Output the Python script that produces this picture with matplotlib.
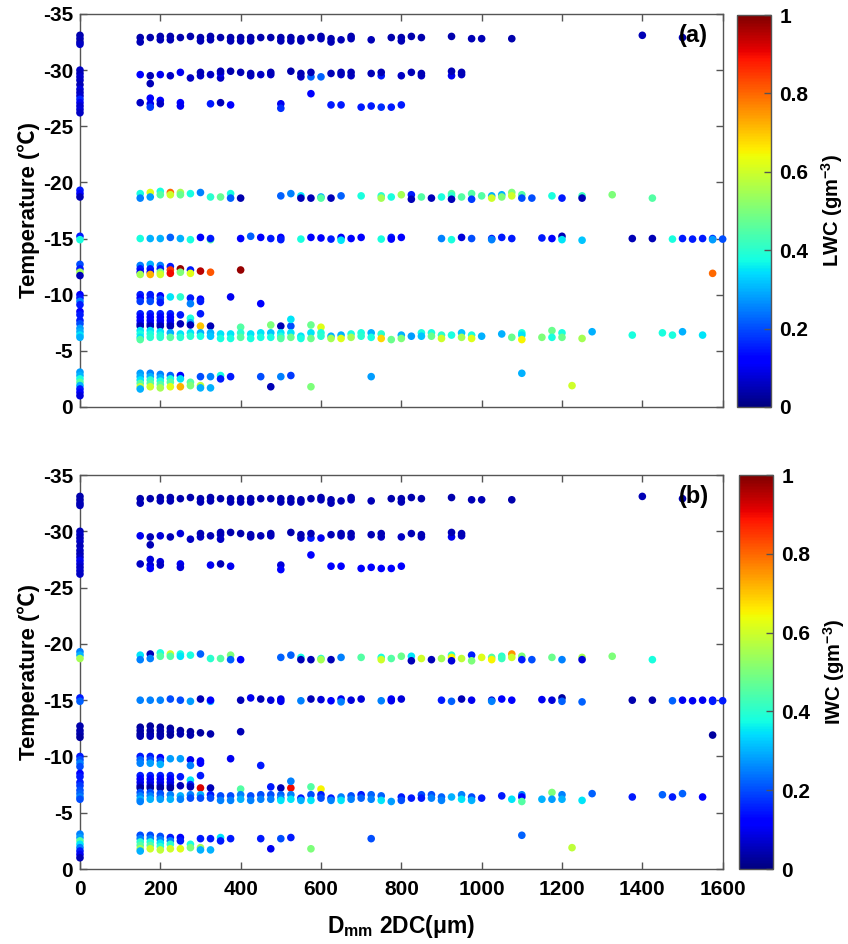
import matplotlib
matplotlib.use("Agg")
import matplotlib.pyplot as plt
import numpy as np

plt.rcParams['font.family'] = ['Liberation Sans', 'Noto Sans CJK SC', 'DejaVu Sans']
plt.rcParams['font.weight'] = 'bold'
plt.rcParams['axes.unicode_minus'] = False
plt.rcParams['mathtext.fontset'] = 'custom'
plt.rcParams['mathtext.rm'] = 'Liberation Sans:bold'
plt.rcParams['mathtext.bf'] = 'Liberation Sans:bold'
plt.rcParams['mathtext.default'] = 'bf'

# ---- data: (D_mm 2DC [um], temperature [C], LWC, IWC) per temperature band ----
col_zero = [(0, -33.1, .04, .04), (0, -32.8, .05, .04), (0, -32.5, .04, .05), (0, -32.3, .06, .05),
            (0, -30.0, .06, .05), (0, -29.7, .05, .06), (0, -29.4, .07, .05), (0, -29.1, .06, .06),
            (0, -28.7, .05, .05), (0, -28.3, .08, .06), (0, -28.0, .06, .05), (0, -27.7, .07, .06),
            (0, -27.4, .16, .1), (0, -27.1, .1, .08), (0, -26.8, .07, .06), (0, -26.5, .08, .07),
            (0, -26.2, .06, .06),
            (0, -19.3, .15, .25), (0, -19.0, .12, .3), (0, -18.7, .05, .55),
            (0, -15.2, .15, .15), (0, -14.9, .38, .22),
            (0, -12.7, .2, .04), (0, -12.3, .15, .04), (0, -12.0, .55, .04), (0, -11.7, .05, .03),
            (0, -10.0, .12, .15), (0, -9.7, .15, .2), (0, -9.4, .25, .25), (0, -9.1, .15, .2),
            (0, -8.5, .12, .12), (0, -8.2, .15, .15), (0, -7.7, .15, .15), (0, -7.4, .2, .18),
            (0, -7.0, .28, .2), (0, -6.7, .3, .22), (0, -6.4, .35, .25), (0, -6.2, .3, .2),
            (0, -3.1, .28, .25), (0, -2.8, .3, .28), (0, -2.5, .38, .45), (0, -2.2, .45, .35),
            (0, -1.9, .3, .25), (0, -1.6, .15, .15), (0, -1.3, .12, .1), (0, -1.0, .08, .05)]

band_33 = [(150, -32.9, .04, .04), (150, -32.5, .05, .05), (175, -32.9, .04, .04), (200, -33.0, .04, .04),
           (200, -32.7, .05, .05), (225, -33.0, .04, .04), (225, -32.7, .05, .05), (250, -32.9, .04, .04),
           (275, -33.0, .04, .04), (300, -32.9, .04, .04), (300, -32.6, .05, .05), (325, -33.0, .04, .04),
           (325, -32.7, .05, .05), (350, -32.9, .04, .04), (375, -32.9, .04, .04), (375, -32.6, .05, .05),
           (400, -32.9, .04, .04), (400, -32.6, .05, .05), (425, -32.9, .04, .04), (425, -32.6, .05, .05),
           (450, -32.9, .04, .04), (475, -32.9, .04, .04), (500, -32.9, .04, .04), (500, -32.6, .05, .05),
           (525, -32.9, .04, .04), (525, -32.6, .05, .05), (550, -32.8, .04, .04), (550, -32.6, .05, .05),
           (575, -32.9, .04, .04), (600, -33.0, .04, .04), (600, -32.8, .05, .05), (625, -32.8, .04, .04),
           (625, -32.5, .05, .05), (650, -32.7, .05, .05), (675, -33.0, .04, .04), (675, -32.8, .05, .05),
           (725, -32.7, .05, .05), (775, -32.9, .04, .04), (800, -32.9, .04, .04), (800, -32.6, .05, .05),
           (825, -33.0, .04, .04), (850, -32.9, .04, .04), (925, -33.0, .04, .04), (975, -32.8, .05, .05),
           (1000, -32.8, .05, .05), (1075, -32.8, .04, .04), (1400, -33.1, .05, .05), (1500, -32.9, .04, .04)]

band_30 = [(150, -29.6, .12, .1), (175, -29.5, .05, .05), (175, -28.8, .05, .05), (200, -29.6, .1, .08),
           (225, -29.5, .06, .05), (250, -29.8, .1, .08), (275, -29.3, .06, .06), (300, -29.5, .06, .06),
           (300, -29.8, .05, .05), (325, -29.6, .06, .05), (350, -29.3, .06, .06), (350, -29.7, .1, .06),
           (350, -29.9, .05, .05), (375, -29.9, .04, .04), (400, -29.8, .05, .04), (425, -29.5, .06, .05),
           (425, -29.7, .05, .05), (450, -29.6, .06, .05), (475, -29.6, .06, .06), (475, -29.8, .05, .05),
           (525, -29.9, .04, .04), (550, -29.4, .06, .06), (550, -29.7, .05, .05), (575, -29.4, .22, .15),
           (575, -29.8, .05, .05), (600, -29.4, .22, .1), (625, -29.7, .05, .05), (650, -29.6, .06, .06),
           (650, -29.8, .05, .05), (675, -29.5, .06, .06), (675, -29.8, .05, .05), (725, -29.7, .05, .05),
           (750, -29.5, .15, .06), (750, -29.8, .05, .05), (800, -29.5, .06, .06), (825, -29.8, .05, .05),
           (850, -29.5, .06, .06), (850, -29.7, .05, .05), (925, -29.5, .1, .1), (925, -29.9, .05, .05),
           (950, -29.6, .06, .06), (950, -29.8, .05, .05)]

band_27 = [(150, -27.1, .06, .06), (175, -27.5, .12, .08), (175, -27.0, .1, .08), (175, -26.7, .18, .12),
           (200, -27.3, .12, .08), (200, -27.0, .06, .06), (250, -27.1, .12, .1), (250, -26.8, .1, .08),
           (325, -27.0, .15, .1), (350, -27.1, .05, .05), (375, -26.9, .12, .1), (500, -27.0, .1, .08),
           (500, -26.6, .17, .12), (575, -27.9, .12, .12), (625, -26.9, .15, .12), (650, -26.9, .15, .12),
           (700, -26.7, .15, .12), (725, -26.8, .15, .12), (750, -26.7, .17, .12), (775, -26.7, .15, .12),
           (800, -26.9, .15, .12)]

band_19 = [(150, -19.0, .38, .35), (150, -18.6, .25, .25), (175, -19.1, .62, .05), (175, -18.7, .28, .25),
           (200, -19.2, .38, .38), (200, -18.9, .45, .45), (225, -19.1, .8, .6), (225, -18.9, .6, .45),
           (250, -19.1, .55, .38), (250, -18.9, .48, .35), (275, -19.0, .38, .38), (300, -19.1, .25, .22),
           (325, -18.7, .4, .4), (350, -18.7, .47, .45), (375, -19.0, .38, .5), (375, -18.6, .22, .22),
           (400, -18.6, .04, .12), (500, -18.8, .22, .22), (525, -19.0, .25, .22), (550, -18.8, .35, .38),
           (550, -18.6, .05, .05), (575, -18.6, .05, .05), (600, -18.7, .3, .4), (600, -18.6, .45, .55),
           (625, -18.6, .05, .05), (650, -18.8, .22, .25), (700, -18.8, .38, .45), (750, -18.8, .4, .38),
           (750, -18.6, .55, .6), (775, -18.7, .38, .45), (800, -18.9, .55, .48), (825, -18.9, .15, .35),
           (825, -18.5, .05, .05), (850, -18.7, .45, .6), (875, -18.6, .05, .05), (900, -18.7, .38, .55),
           (925, -19.0, .45, .4), (925, -18.8, .4, .65), (925, -18.5, .05, .08), (950, -18.7, .45, .58),
           (975, -19.0, .45, .15), (975, -18.5, .18, .5), (1000, -18.8, .45, .62), (1025, -18.8, .3, .45),
           (1025, -18.6, .6, .65), (1050, -18.9, .3, .4), (1050, -18.7, .5, .42), (1075, -19.1, .5, .75),
           (1075, -18.8, .6, .6), (1100, -18.9, .45, .5), (1100, -18.6, .2, .15), (1125, -18.6, .2, .2),
           (1175, -18.8, .38, .48), (1200, -18.6, .15, .25), (1250, -18.8, .42, .55), (1250, -18.6, .05, .08),
           (1325, -18.9, .5, .5), (1425, -18.6, .45, .38)]

band_15 = [(150, -15.0, .38, .25), (175, -15.0, .3, .25), (200, -15.0, .3, .25), (225, -15.1, .22, .2),
           (250, -15.0, .3, .2), (275, -14.9, .38, .28), (300, -15.1, .12, .05), (325, -14.9, .45, .3),
           (325, -15.0, .15, .12), (400, -15.0, .12, .05), (425, -15.2, .22, .1), (450, -15.1, .12, .05),
           (475, -15.0, .15, .08), (500, -15.1, .12, .08), (500, -14.9, .15, .1), (550, -14.95, .38, .25),
           (575, -15.1, .12, .05), (600, -15.05, .12, .08), (625, -14.95, .15, .12), (650, -15.1, .12, .1),
           (650, -14.85, .35, .25), (675, -15.0, .12, .08), (700, -15.1, .12, .08), (750, -14.95, .38, .25),
           (775, -15.1, .15, .12), (775, -14.95, .12, .1), (800, -15.1, .12, .08), (900, -15.0, .25, .15),
           (925, -14.9, .38, .22), (950, -15.1, .08, .05), (975, -15.0, .2, .1), (1025, -15.0, .15, .08),
           (1025, -14.9, .25, .25), (1050, -15.1, .15, .12), (1075, -15.0, .15, .12), (1150, -15.05, .15, .1),
           (1175, -15.0, .12, .08), (1200, -15.2, .05, .03), (1200, -14.9, .35, .22), (1250, -14.85, .32, .22),
           (1375, -15.0, .05, .04), (1425, -15.0, .05, .04), (1475, -14.95, .38, .22), (1500, -15.0, .15, .1),
           (1525, -14.95, .15, .1), (1550, -15.0, .15, .1), (1575, -15.0, .18, .12), (1575, -14.9, .28, .15),
           (1600, -14.95, .2, .15)]

band_12 = [(150, -12.6, .25, .03), (150, -12.3, .15, .04), (150, -12.0, .12, .03), (150, -11.8, .55, .04),
           (175, -12.7, .3, .03), (175, -12.3, .15, .04), (175, -12.0, .12, .03), (175, -11.8, .72, .05),
           (200, -12.6, .25, .03), (200, -12.3, .15, .04), (200, -12.0, .5, .03), (200, -11.8, .6, .04),
           (225, -12.5, .15, .03), (225, -12.2, .85, .04), (225, -11.9, .9, .03), (250, -12.3, .98, .03),
           (250, -12.0, .5, .04), (275, -12.2, .15, .03), (275, -11.9, .62, .04), (300, -12.1, .95, .03),
           (325, -12.0, .82, .04), (400, -12.2, .98, .05), (1575, -11.9, .8, .03)]

band_10 = [(150, -10.0, .15, .15), (150, -9.7, .12, .22), (150, -9.4, .18, .25), (175, -10.0, .15, .15),
           (175, -9.7, .15, .2), (175, -9.4, .2, .28), (200, -9.9, .12, .12), (200, -9.6, .2, .2),
           (200, -9.3, .15, .3), (225, -9.8, .35, .28), (250, -9.8, .4, .28), (275, -9.7, .15, .1),
           (275, -9.2, .25, .25), (300, -9.6, .12, .12), (300, -9.4, .15, .12), (375, -9.8, .1, .1),
           (450, -9.2, .12, .15)]

band_8 = [(150, -8.3, .15, .15), (150, -8.0, .12, .12), (150, -7.7, .12, .1), (150, -7.4, .1, .08), (150, -7.2, .05, .03),
          (175, -8.3, .15, .15), (175, -8.0, .12, .12), (175, -7.7, .12, .1), (175, -7.4, .1, .08), (175, -7.2, .05, .03),
          (200, -8.3, .15, .15), (200, -8.0, .12, .12), (200, -7.7, .12, .1), (200, -7.4, .1, .08), (200, -7.2, .05, .03),
          (225, -8.3, .15, .15), (225, -8.0, .12, .12), (225, -7.7, .12, .1), (225, -7.4, .1, .08), (225, -7.2, .05, .03),
          (250, -8.2, .15, .15), (250, -7.4, .05, .05), (275, -7.9, .38, .35), (275, -7.5, .3, .15),
          (275, -7.3, .05, .05), (300, -8.3, .15, .15), (300, -7.2, .7, .92), (325, -7.2, .05, .05),
          (400, -7.1, .45, .45), (475, -7.3, .5, .15), (500, -7.2, .05, .05), (525, -7.2, .2, .9),
          (525, -7.8, .35, .25), (575, -7.3, .48, .45), (600, -7.1, .62, .65)]

band_6 = [(150, -6.8, .35, .2), (150, -6.5, .38, .25), (150, -6.2, .35, .3), (150, -6.0, .45, .25),
          (175, -6.8, .35, .2), (175, -6.5, .38, .25), (175, -6.2, .4, .3), (200, -6.7, .35, .2),
          (200, -6.4, .38, .22), (200, -6.2, .4, .28), (225, -6.6, .3, .25), (225, -6.2, .45, .3),
          (250, -6.5, .35, .3), (250, -6.2, .4, .25), (275, -6.6, .35, .25), (275, -6.3, .4, .2),
          (300, -6.6, .3, .3), (300, -6.3, .38, .2), (325, -6.6, .3, .15), (325, -6.3, .32, .2),
          (350, -6.5, .35, .2), (350, -6.1, .38, .25), (375, -6.5, .35, .2), (375, -6.1, .38, .25),
          (400, -6.6, .4, .25), (400, -6.2, .45, .3), (425, -6.5, .35, .2), (425, -6.1, .38, .25),
          (450, -6.6, .35, .2), (450, -6.2, .38, .25), (475, -6.6, .32, .2), (475, -6.2, .38, .25),
          (500, -6.6, .35, .22), (500, -6.3, .38, .25), (500, -6.1, .45, .35), (525, -6.6, .35, .25),
          (525, -6.2, .48, .35), (550, -6.3, .35, .15), (550, -6.1, .38, .3), (575, -6.6, .35, .2),
          (575, -6.1, .48, .35), (600, -6.6, .38, .15), (600, -6.3, .4, .2), (625, -6.3, .3, .15),
          (625, -6.1, .55, .25), (650, -6.4, .3, .25), (650, -6.1, .62, .35), (675, -6.5, .38, .2),
          (675, -6.2, .55, .25), (700, -6.6, .38, .15), (700, -6.3, .4, .22), (725, -6.6, .3, .22),
          (725, -6.2, .38, .25), (750, -6.5, .4, .22), (750, -6.1, .68, .35), (775, -6.0, .48, .28),
          (800, -6.4, .3, .15), (800, -6.1, .5, .2), (825, -6.3, .28, .15), (850, -6.6, .38, .2),
          (850, -6.3, .32, .15), (875, -6.6, .38, .2), (875, -6.3, .48, .25), (900, -6.4, .4, .22),
          (900, -6.1, .6, .25), (925, -6.4, .38, .3), (950, -6.6, .32, .25), (950, -6.2, .55, .35),
          (975, -6.4, .38, .2), (975, -6.1, .62, .3), (1000, -6.3, .3, .15), (1050, -6.5, .3, .15),
          (1075, -6.2, .48, .35), (1100, -6.6, .38, .25), (1100, -6.4, .35, .12), (1100, -6.0, .65, .45),
          (1150, -6.2, .5, .3), (1175, -6.8, .48, .5), (1175, -6.2, .38, .28), (1200, -6.6, .38, .25),
          (1200, -6.2, .48, .3), (1250, -6.1, .55, .35), (1275, -6.7, .3, .22), (1375, -6.4, .38, .15),
          (1450, -6.6, .38, .22), (1475, -6.4, .38, .15), (1500, -6.7, .3, .22), (1550, -6.4, .35, .12)]

band_2 = [(150, -3.0, .28, .2), (150, -2.7, .3, .25), (150, -2.4, .35, .4), (150, -2.1, .45, .45),
          (150, -1.8, .58, .55), (150, -1.6, .3, .3), (175, -3.0, .25, .2), (175, -2.7, .3, .25),
          (175, -2.4, .4, .38), (175, -2.1, .45, .45), (175, -1.8, .6, .6), (200, -2.9, .25, .2),
          (200, -2.6, .3, .25), (200, -2.3, .38, .35), (200, -2.0, .45, .4), (200, -1.7, .55, .58),
          (225, -2.8, .22, .15), (225, -2.5, .38, .25), (225, -2.2, .45, .4), (225, -1.8, .62, .6),
          (250, -2.8, .12, .12), (250, -2.5, .35, .15), (250, -1.8, .72, .62), (275, -2.2, .45, .38),
          (275, -1.9, .5, .5), (300, -2.7, .2, .15), (300, -1.9, .58, .55), (300, -1.7, .3, .3),
          (325, -2.7, .25, .15), (325, -1.7, .3, .3), (350, -2.8, .38, .35), (350, -2.5, .15, .15),
          (375, -2.7, .15, .15), (450, -2.7, .2, .15), (475, -1.8, .05, .1), (500, -2.7, .25, .2),
          (525, -2.8, .18, .15), (575, -1.8, .5, .5), (725, -2.7, .28, .2), (1100, -3.0, .3, .22),
          (1225, -1.9, .6, .58)]

xticks = [0, 200, 400, 600, 800, 1000, 1200, 1400, 1600]
yticks = [0, -5, -10, -15, -20, -25, -30, -35]
cticks = [0, 0.2, 0.4, 0.6, 0.8, 1]
cticklabels = ['0', '0.2', '0.4', '0.6', '0.8', '1']

bands = [col_zero, band_33, band_30, band_27, band_19, band_15, band_12, band_10, band_8, band_6, band_2]
pts = np.array([p for b in bands for p in b], dtype=float)
xs, ts, lwc, iwc = pts[:, 0], pts[:, 1], pts[:, 2], pts[:, 3]

fig = plt.figure(figsize=(8.48, 9.44), dpi=100)
spine_col = '#555555'
TICK_FS = 15

panels = [
    dict(vals=lwc, label='LWC (gm$^{-3}$)', tag='(a)', ax=[0.0943, 0.5689, 0.7579, 0.4163],
         cax=[0.8691, 0.5689, 0.0401, 0.4152], xlab=False),
    dict(vals=iwc, label='IWC (gm$^{-3}$)', tag='(b)', ax=[0.0943, 0.0794, 0.7579, 0.4174],
         cax=[0.8715, 0.0794, 0.0401, 0.4174], xlab=True),
]

for p in panels:
    ax = fig.add_axes(p['ax'])
    sc = ax.scatter(xs, ts, c=p['vals'], cmap='jet', vmin=0, vmax=1, s=30, linewidths=0, clip_on=False, zorder=3)
    ax.set_xlim(0, 1600)
    ax.set_ylim(0, -35)
    ax.set_xticks(xticks)
    ax.set_yticks(yticks)
    ax.set_yticklabels([str(v) for v in yticks])
    ax.tick_params(direction='in', top=True, right=True, length=5, width=1, color=spine_col,
                   labelsize=TICK_FS, pad=5)
    ax.tick_params(axis='x', pad=8)
    for lab in ax.get_xticklabels() + ax.get_yticklabels():
        lab.set_fontweight('bold')
    for s in ax.spines.values():
        s.set_color(spine_col)
        s.set_linewidth(1)
    if p['xlab']:
        ax.set_xticklabels([str(v) for v in xticks])
        ax.set_xlabel('D$_{mm}$ 2DC(μm)', fontsize=16.5, fontweight='bold', labelpad=10)
    else:
        ax.set_xticklabels([])
    ax.set_ylabel('Temperature (℃)', fontsize=16, fontweight='bold', labelpad=2)
    ax.text(0.955, 0.945, p['tag'], transform=ax.transAxes, ha='center', va='center',
            fontsize=17, fontweight='bold')

    cax = fig.add_axes(p['cax'])
    cb = fig.colorbar(sc, cax=cax, ticks=cticks)
    cb.ax.set_yticklabels(cticklabels)
    cb.ax.tick_params(direction='in', length=5, width=1, color=spine_col, labelsize=TICK_FS, pad=6)
    for lab in cb.ax.get_yticklabels():
        lab.set_fontweight('bold')
    cb.outline.set_edgecolor(spine_col)
    cb.outline.set_linewidth(1)
    cb.set_label(p['label'], fontsize=14.5, fontweight='bold', labelpad=8)

fig.savefig('out.png', dpi=100)
